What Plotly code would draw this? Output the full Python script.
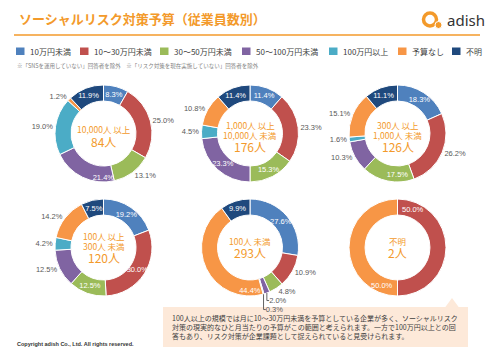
import math
import plotly.graph_objects as go

# ---------------- data ----------------
categories = ["10万円未満", "10～30万円未満", "30～50万円未満", "50～100万円未満",
              "100万円以上", "予算なし", "不明"]
colors = ["#4F81BD", "#C0504D", "#9BBB59", "#8064A2", "#4BACC6", "#F79646", "#1F497D"]

group_labels = [
    ["10,000人 以上"],
    ["1,000人 以上", "10,000人 未満"],
    ["300人 以上", "1,000人 未満"],
    ["100人 以上", "300人 未満"],
    ["100人 未満"],
    ["不明"],
]
group_counts = ["84人", "176人", "126人", "120人", "293人", "2人"]

v_10000_over = [8.3, 25.0, 13.1, 21.4, 19.0, 1.2, 11.9]
v_1000_10000 = [11.4, 23.3, 15.3, 23.3, 4.5, 10.8, 11.4]
v_300_1000 = [18.3, 26.2, 17.5, 10.3, 1.6, 15.1, 11.1]
v_100_300 = [19.2, 30.0, 12.5, 12.5, 4.2, 14.2, 7.5]
v_under_100 = [27.6, 10.9, 4.8, 2.0, 0.3, 44.4, 9.9]
v_unknown = [0, 50.0, 0, 0, 0, 50.0, 0]
series = [v_10000_over, v_1000_10000, v_300_1000, v_100_300, v_under_100, v_unknown]

# label placement style per slice ("label" = placed near slice start, like the original)
I, O, L = "inside", "outside", "label"
text_pos = [
    [I, O, O, I, O, O, I],
    [I, O, I, I, O, O, I],
    [I, O, I, O, O, O, I],
    [I, I, I, O, O, O, I],
    [I, O, O, O, O, I, I],
    [L, L, L, L, L, L, L],
]

note = "※「SNSを運用していない」回答者を除外　※「リスク対策を現在実施していない」回答者を除外"
comment = ("100人以上の規模では月に10～30万円未満を予算としている企業が多く、ソーシャルリスク<br>"
           "対策の現実的なひと月当たりの予算がこの範囲と考えられます。一方で100万円以上との回<br>"
           "答もあり、リスク対策が企業課題として捉えられていると見受けられます。")

# ---------------- layout constants ----------------
W, H = 500, 353
R = 48.5
centers = [(103.5, 133.5), (250, 133.5), (397.5, 133.5),
           (103.5, 247.5), (250, 247.5), (397.5, 247.5)]
ORANGE = "#F39A2B"
JP = "Noto Sans CJK JP"
NUM = "Liberation Sans, Noto Sans CJK JP"


def px(x):
    return x / W


def py(y):
    return 1 - y / H


fig = go.Figure()
annotations = []
shapes = []

for vals, pos, (cx, cy) in zip(series, text_pos, centers):
    txt = [f"{v:.1f}%" if v > 0 else "" for v in vals]
    tpos = ["none" if p == L else p for p in pos]
    fig.add_trace(go.Pie(
        labels=categories, values=vals, text=txt, textinfo="text",
        textposition=tpos, sort=False, direction="clockwise", rotation=0,
        hole=0.67, marker=dict(colors=colors, line=dict(color="white", width=1)),
        insidetextorientation="horizontal",
        insidetextfont=dict(color="white", size=7.5, family=NUM),
        outsidetextfont=dict(color="#595959", size=7.5, family=NUM),
        domain=dict(x=[px(cx - R), px(cx + R)], y=[py(cy + R), py(cy - R)]),
        showlegend=False, hoverinfo="label+percent",
    ))
    # labels placed close to the slice start (as in the original for this chart)
    total = sum(vals)
    cum = 0.0
    for v, t, p in zip(vals, txt, pos):
        if p == L and v > 0:
            a = 2 * math.pi * (cum + 0.12 * v) / total
            rr = 41
            annotations.append(dict(x=px(cx + rr * math.sin(a)), y=py(cy - rr * math.cos(a)),
                                    xref="paper", yref="paper", text=t, showarrow=False,
                                    xanchor="center", yanchor="middle",
                                    font=dict(size=7.5, color="white", family=NUM)))
        cum += v

# center labels (offsets from donut centre)
line_offsets = {1: ([-4.5], 7.5), 2: ([-9, 1], 12.5)}
for lines, cnt, (cx, cy) in zip(group_labels, group_counts, centers):
    shift = -2.5 if cy > 200 else 0
    offs, coff = line_offsets[len(lines)]
    for ln, o in zip(lines, offs):
        annotations.append(dict(x=px(cx), y=py(cy + o + shift), xref="paper", yref="paper",
                                text=ln, showarrow=False, xanchor="center", yanchor="middle",
                                borderpad=0,
                                font=dict(size=8.5, color=ORANGE, family=JP)))
    annotations.append(dict(x=px(cx), y=py(cy + coff + shift), xref="paper", yref="paper",
                            text=cnt, showarrow=False, xanchor="center", yanchor="middle",
                            borderpad=0,
                            font=dict(size=12, color=ORANGE, family=JP)))

# title
annotations.append(dict(x=px(17), y=py(18), xref="paper", yref="paper", text="<b>ソーシャルリスク対策予算（従業員数別）</b>",
                        showarrow=False, xanchor="left", yanchor="middle",
                        font=dict(size=13, color=ORANGE, family=JP)))
shapes.append(dict(type="line", xref="paper", yref="paper", x0=px(14), x1=px(480), y0=py(35), y1=py(35),
                   line=dict(color=ORANGE, width=1.5)))

# logo
shapes.append(dict(type="circle", xref="paper", yref="paper", x0=px(423.5), x1=px(436.5), y0=py(26), y1=py(13),
                   line=dict(color=ORANGE, width=3.5)))
shapes.append(dict(type="circle", xref="paper", yref="paper", x0=px(435), x1=px(442), y0=py(28.5), y1=py(21.5),
                   fillcolor=ORANGE, line=dict(color="white", width=1)))
annotations.append(dict(x=px(445), y=py(19.5), xref="paper", yref="paper", text="adish",
                        showarrow=False, xanchor="left", yanchor="middle",
                        font=dict(size=15, color="#333333", family="Noto Sans")))

# legend
leg_x = [16, 80, 160, 242, 329, 398, 452]
for c, lab, lx in zip(colors, categories, leg_x):
    shapes.append(dict(type="rect", xref="paper", yref="paper", x0=px(lx), x1=px(lx + 8.5),
                       y0=py(55), y1=py(47.5), fillcolor=c, line=dict(width=0)))
    annotations.append(dict(x=px(lx + 11.5), y=py(51.5), xref="paper", yref="paper", text=lab,
                            showarrow=False, xanchor="left", yanchor="middle",
                            font=dict(size=8, color="#404040", family=JP)))
annotations.append(dict(x=px(15), y=py(66), xref="paper", yref="paper", text=note,
                        showarrow=False, xanchor="left", yanchor="middle",
                        font=dict(size=5.5, color="#7F7F7F", family=JP)))

# comment box with pointer
shapes.append(dict(type="rect", xref="paper", yref="paper", x0=px(163), x1=px(468), y0=py(347), y1=py(307),
                   fillcolor="#FDE9D9", line=dict(width=0), layer="below"))
shapes.append(dict(type="path", xref="paper", yref="paper",
                   path=f"M {px(445)},{py(307.5)} L {px(452)},{py(298)} L {px(459)},{py(307.5)} Z",
                   fillcolor="#FDE9D9", line=dict(width=0), layer="below"))
annotations.append(dict(x=px(170), y=py(327), xref="paper", yref="paper", text=comment,
                        showarrow=False, xanchor="left", yanchor="middle", align="left",
                        font=dict(size=7, color="#404040", family=JP)))

# copyright
annotations.append(dict(x=px(15), y=py(343.5), xref="paper", yref="paper",
                        text="<b>Copyright adish Co., Ltd. All rights reserved.</b>",
                        showarrow=False, xanchor="left", yanchor="middle",
                        font=dict(size=5.5, color="#333333", family="Liberation Sans")))

fig.update_layout(width=W, height=H, margin=dict(l=0, r=0, t=0, b=0),
                  paper_bgcolor="white", plot_bgcolor="white",
                  uniformtext=dict(mode="show", minsize=7.5),
                  annotations=annotations, shapes=shapes)

fig.write_html("out.html")
